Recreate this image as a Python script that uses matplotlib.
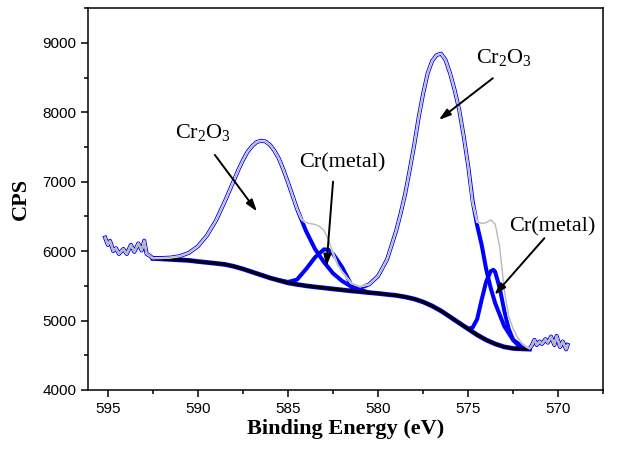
import numpy as np
import matplotlib
matplotlib.use("Agg")
import matplotlib.pyplot as plt
from matplotlib.ticker import MultipleLocator

plt.rcParams["mathtext.fontset"] = "custom"
plt.rcParams["mathtext.rm"] = "Liberation Serif"
plt.rcParams["mathtext.it"] = "Liberation Serif:italic"

# noisy raw data outside the fitted window
noise_left_e = [595.15, 595.0, 594.88, 594.7, 594.55, 594.38, 594.14, 593.95, 593.72,
                593.53, 593.31, 593.12, 592.98, 592.85, 592.66, 592.5]
noise_left_cps = [6194, 6090, 6147, 6003, 6041, 5960, 6030, 5960, 6090,
                  5990, 6110, 6010, 6150, 5960, 5930, 5898]
noise_right_e = [571.6, 571.5, 571.32, 571.19, 571.04, 570.9, 570.71, 570.58, 570.4,
                 570.21, 570.09, 569.9, 569.75, 569.56, 569.48]
noise_right_cps = [4600, 4624, 4720, 4648, 4697, 4663, 4731, 4682, 4768,
                   4648, 4778, 4620, 4697, 4586, 4648]

# raw data inside the fitted window
data_e = [592.5, 592.0, 591.5, 591.0, 590.5, 590.0, 589.5, 589.0, 588.5, 588.25, 588.0,
          587.75, 587.5, 587.25, 587.0, 586.75, 586.5, 586.25, 586.0, 585.75, 585.5,
          585.25, 585.0, 584.5, 584.25, 584.0, 583.75, 583.5, 583.25, 583.0, 582.75,
          582.5, 582.25, 582.0, 581.75, 581.5, 581.0, 580.5, 580.0, 579.5, 579.0,
          578.75, 578.5, 578.25, 578.0, 577.75, 577.5, 577.25, 577.0, 576.75, 576.5,
          576.25, 576.0, 575.75, 575.5, 575.25, 575.0, 574.75, 574.5, 574.25, 574.0,
          573.75, 573.5, 573.25, 573.0, 572.75, 572.5, 572.25, 572.0, 571.75, 571.6]
data_cps = [5898, 5900, 5907, 5928, 5975, 6070, 6225, 6440, 6720, 6870, 7020,
            7175, 7310, 7430, 7510, 7570, 7590, 7580, 7530, 7445, 7330,
            7170, 6990, 6610, 6460, 6410, 6395, 6385, 6355, 6300, 6160,
            5970, 5800, 5700, 5620, 5540, 5490, 5520, 5640, 5880, 6290,
            6540, 6820, 7160, 7520, 7920, 8268, 8560, 8740, 8825, 8845,
            8750, 8560, 8320, 8040, 7660, 7230, 6700, 6420, 6400, 6410,
            6450, 6390, 6060, 5450, 5060, 4880, 4750, 4670, 4620, 4600]

# Shirley background
bg_e = [592.5, 592.0, 591.5, 591.0, 590.5, 590.0, 589.5, 589.0, 588.5, 588.0, 587.5,
        587.0, 586.5, 586.0, 585.5, 585.0, 584.5, 584.0, 583.5, 583.0, 582.5, 582.0,
        581.5, 581.0, 580.5, 580.0, 579.5, 579.0, 578.5, 578.0, 577.5, 577.0, 576.5,
        576.0, 575.5, 575.0, 574.5, 574.0, 573.5, 573.0, 572.5, 572.0, 571.6]
bg_cps = [5895, 5888, 5880, 5873, 5866, 5850, 5837, 5823, 5808, 5780, 5743,
          5700, 5657, 5614, 5578, 5542, 5520, 5500, 5484, 5470, 5455, 5441,
          5427, 5415, 5402, 5390, 5376, 5362, 5340, 5311, 5268, 5210, 5138,
          5052, 4965, 4879, 4793, 4720, 4663, 4620, 4598, 4591, 4588]

# Cr2O3 components (with background)
ox1_e = [592.5, 592.0, 591.5, 591.0, 590.5, 590.0, 589.5, 589.0, 588.5, 588.25, 588.0,
         587.75, 587.5, 587.25, 587.0, 586.75, 586.5, 586.25, 586.0, 585.75, 585.5,
         585.25, 585.0, 584.5, 584.0, 583.5, 583.0, 582.5, 582.0, 581.5, 581.0, 580.5]
ox1_cps = [5898, 5900, 5907, 5928, 5975, 6070, 6225, 6440, 6720, 6870, 7020,
           7175, 7310, 7430, 7510, 7570, 7590, 7580, 7530, 7445, 7330,
           7170, 6990, 6610, 6290, 6030, 5840, 5680, 5570, 5490, 5440, 5405]
ox2_e = [581.5, 581.0, 580.5, 580.0, 579.5, 579.0, 578.75, 578.5, 578.25, 578.0, 577.75,
         577.5, 577.25, 577.0, 576.75, 576.5, 576.25, 576.0, 575.75, 575.5, 575.25,
         575.0, 574.75, 574.5, 574.25, 574.0, 573.75, 573.5, 573.0, 572.5, 572.0, 571.6]
ox2_cps = [5440, 5470, 5520, 5640, 5880, 6290, 6540, 6820, 7160, 7520, 7920,
           8268, 8560, 8740, 8825, 8845, 8750, 8560, 8320, 8040, 7660,
           7230, 6720, 6370, 6090, 5740, 5470, 5250, 4920, 4720, 4628, 4590]

# Cr metal components (with background)
met1_e = [585.5, 585.0, 584.5, 584.0, 583.5, 583.0, 582.75, 582.5, 582.0, 581.5, 581.0, 580.5]
met1_cps = [5582, 5555, 5590, 5740, 5910, 6025, 6020, 5960, 5770, 5520, 5430, 5402]
met2_e = [575.0, 574.75, 574.5, 574.25, 574.0, 573.75, 573.6, 573.5, 573.25, 573.0,
          572.75, 572.5, 572.25, 572.0, 571.75]
met2_cps = [4879, 4900, 5020, 5300, 5560, 5710, 5730, 5700, 5470, 5150,
            4880, 4720, 4650, 4610, 4588]

blue = "#0000ff"
grey = "#b8b8b8"

fig = plt.figure(figsize=(6.2, 4.55), dpi=100)
ax = fig.add_axes([0.142, 0.143, 0.831, 0.839])

for e, c in [(ox1_e, ox1_cps), (ox2_e, ox2_cps), (met1_e, met1_cps), (met2_e, met2_cps)]:
    ax.plot(e, c, color=blue, lw=2.9, solid_capstyle="round", zorder=2)

ax.plot(bg_e, bg_cps, color=blue, lw=3.4, zorder=3)
ax.plot(bg_e, bg_cps, color="black", lw=2.2, zorder=3)

raw_e = noise_left_e + data_e + noise_right_e
raw_cps = noise_left_cps + data_cps + noise_right_cps
ax.plot(raw_e, raw_cps, color="white", lw=1.6, zorder=5)
ax.plot(raw_e, raw_cps, color=grey, lw=1.0, zorder=6)

# blue-edged noise outside the fit window
for e, c in [(noise_left_e, noise_left_cps), (noise_right_e, noise_right_cps)]:
    ax.plot(e, c, color=blue, lw=3.0, zorder=4)
    ax.plot(e, c, color=grey, lw=1.5, zorder=7)

ax.set_xlim(596.1, 567.5)
ax.set_ylim(4000, 9500)
ax.xaxis.set_major_locator(MultipleLocator(5))
ax.xaxis.set_minor_locator(MultipleLocator(2.5))
ax.yaxis.set_major_locator(MultipleLocator(1000))
ax.yaxis.set_minor_locator(MultipleLocator(500))
ax.tick_params(which="major", direction="out", length=5, width=1.1,
               labelsize=11, labelfontfamily="Liberation Sans")
ax.tick_params(which="minor", direction="out", length=3, width=1.1)
for s in ax.spines.values():
    s.set_linewidth(1.1)

serif = ["Liberation Serif", "DejaVu Serif"]
ax.set_xlabel("Binding Energy (eV)", family=serif, fontweight="bold", fontsize=16, labelpad=2)
ax.set_ylabel("CPS", family=serif, fontweight="bold", fontsize=16, labelpad=8)

label_kw = dict(family=serif, fontsize=16, ha="center", va="center", zorder=8)
ax.text(589.73, 7703, r"Cr$_2$O$_3$", **label_kw)
ax.text(572.99, 8784, r"Cr$_2$O$_3$", **label_kw)
ax.text(581.97, 7271, "Cr(metal)", **label_kw)
ax.text(570.32, 6349, "Cr(metal)", **label_kw)

arrows = [((589.06, 7386), (586.72, 6569)),
          ((573.63, 8491), (576.63, 7890)),
          ((582.50, 7001), (582.87, 5777)),
          ((570.77, 6186), (573.54, 5369))]
for tail, head in arrows:
    ax.annotate("", xy=head, xytext=tail, zorder=9,
                arrowprops=dict(arrowstyle="-|>,head_length=0.7,head_width=0.22",
                                color="black", lw=1.4, shrinkA=0, shrinkB=0))

fig.savefig("out.png", dpi=100)
